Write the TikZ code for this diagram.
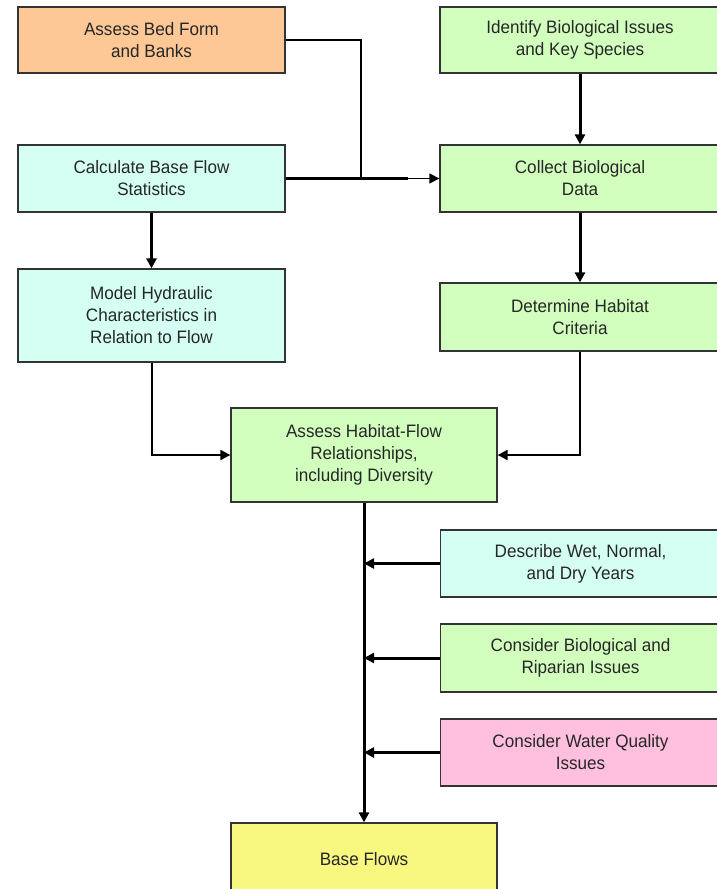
\documentclass[tikz,border=0pt]{standalone}
\usepackage{fontspec}
\setmainfont{Liberation Sans}[FakeStretch=0.95]
\usetikzlibrary{arrows.meta}
\definecolor{orangebox}{HTML}{FDC896}
\definecolor{mintbox}{HTML}{D4FFF2}
\definecolor{greenbox}{HTML}{D2FFBE}
\definecolor{pinkbox}{HTML}{FFC0E0}
\definecolor{yellowbox}{HTML}{F8F880}
\definecolor{boxline}{HTML}{333333}
\begin{document}
\begin{tikzpicture}[x=1pt,y=-1pt,
  box/.style={draw=boxline, line width=1.3pt, align=center, inner sep=0pt,
    font=\fontsize{18}{22}\selectfont, text=black!85},
  leftbox/.style={box, minimum width=267pt},
  rightbox/.style={box, minimum width=280pt},
  midbox/.style={box, minimum width=266pt},
  tip/.style={-{Triangle[length=10pt,width=10pt]}},
  heavy/.style={line width=3pt, tip},
  medium/.style={line width=2pt, tip},
  light/.style={line width=1.4pt}]
\useasboundingbox (0,0) rectangle (717,889);
\clip (0,0) rectangle (717,889);
\fill[white] (0,0) rectangle (717,889);

\node[leftbox, fill=orangebox, minimum height=66pt] (bed) at (151.5,40) {Assess Bed Form\\and Banks};
\node[rightbox, fill=greenbox, minimum height=66pt] (ident) at (580,40) {Identify Biological Issues\\and Key Species};
\node[leftbox, fill=mintbox, minimum height=67pt] (calc) at (151.5,178.5) {Calculate Base Flow\\Statistics};
\node[rightbox, fill=greenbox, minimum height=67pt] (collect) at (580,178.5) {Collect Biological\\Data};
\node[leftbox, fill=mintbox, minimum height=93pt] (model) at (151.5,315.5) {Model Hydraulic\\Characteristics in\\Relation to Flow};
\node[rightbox, fill=greenbox, minimum height=68pt] (determine) at (580,317) {Determine Habitat\\Criteria};
\node[midbox, fill=greenbox, minimum height=94pt] (habitat) at (364,455) {Assess Habitat-Flow\\Relationships,\\including Diversity};
\node[rightbox, fill=mintbox, minimum height=67pt] (describe) at (580.5,563.5) {Describe Wet, Normal,\\and Dry Years};
\node[rightbox, fill=greenbox, minimum height=68pt] (bio) at (580.5,658) {Consider Biological and\\Riparian Issues};
\node[rightbox, fill=pinkbox, minimum height=67pt] (water) at (580.5,752.5) {Consider Water Quality\\Issues};
\node[midbox, fill=yellowbox, minimum height=72pt] (base) at (364,859) {Base Flows};

\coordinate (j) at (361,178.5);
\coordinate (k) at (408,178.5);
\draw[light] (bed.east) -| (j);
\draw[line width=3pt] (calc.east) -- (k);
\draw[light, tip] (k) -- (collect.west);
\draw[heavy] (ident.south) -- (collect.north);
\draw[heavy] (calc.south) -- (model.north);
\draw[heavy] (collect.south) -- (determine.north);
\draw[medium] (model.south) |- (habitat.west);
\draw[medium] (determine.south) |- (habitat.east);
\draw[heavy] (habitat.south) -- (base.north);
\coordinate (t1) at (describe.west -| base.north);
\coordinate (t2) at (bio.west -| base.north);
\coordinate (t3) at (water.west -| base.north);
\draw[heavy] (describe.west) -- (t1);
\draw[heavy] (bio.west) -- (t2);
\draw[heavy] (water.west) -- (t3);
\end{tikzpicture}
\end{document}
